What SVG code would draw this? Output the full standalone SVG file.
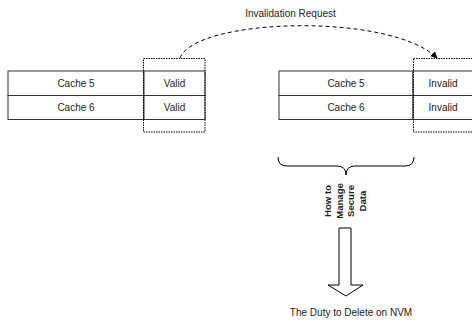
<svg xmlns="http://www.w3.org/2000/svg" width="472" height="323" viewBox="0 0 472 323">
<defs>
<style>
.t{font-family:"Liberation Sans",Arial,sans-serif;font-size:10px;fill:#222;text-anchor:middle}
.b{font-weight:bold;font-size:9.6px}
.cell{fill:#fff;stroke:#333;stroke-width:1}
.dot{fill:none;stroke:#000;stroke-width:1;stroke-dasharray:1.5 1}
.dash{fill:none;stroke:#000;stroke-width:1;stroke-dasharray:4 3}
</style>
<marker id="ah" viewBox="0 0 10 10" refX="9" refY="5" markerWidth="7" markerHeight="7" markerUnits="userSpaceOnUse" orient="auto">
<path d="M0,0 L10,5 L0,10 z" fill="#000"/>
</marker>
</defs>
<rect width="472" height="323" fill="#fff"/>
<g id="left-table">
<rect class="cell" x="8" y="71" width="136" height="24.5"/>
<rect class="cell" x="144" y="71" width="61" height="24.5"/>
<rect class="cell" x="8" y="95.5" width="136" height="24"/>
<rect class="cell" x="144" y="95.5" width="61" height="24"/>
<text class="t" x="76" y="87">Cache 5</text>
<text class="t" x="174.5" y="87">Valid</text>
<text class="t" x="76" y="111">Cache 6</text>
<text class="t" x="174.5" y="111">Valid</text>
<rect class="dot" x="143.5" y="58.5" width="61.5" height="73.5"/>
</g>
<g id="right-table">
<rect class="cell" x="279" y="71" width="134" height="24.5"/>
<rect class="cell" x="413" y="71" width="60" height="24.5"/>
<rect class="cell" x="279" y="95.5" width="134" height="24"/>
<rect class="cell" x="413" y="95.5" width="60" height="24"/>
<text class="t" x="346" y="87">Cache 5</text>
<text class="t" x="443" y="87">Invalid</text>
<text class="t" x="346" y="111">Cache 6</text>
<text class="t" x="443" y="111">Invalid</text>
<rect class="dot" x="413.5" y="58.5" width="60" height="73.5"/>
</g>
<g id="connectors">
<path class="dash" d="M180,58 C195,18 390,12 437,58" marker-end="url(#ah)"/>
<text class="t" x="290.5" y="17">Invalidation Request</text>
</g>
<g id="brace">
<path d="M278,157 Q278,166 287,166 L337,166 Q346,166 346,175 Q346,166 355,166 L405,166 Q414,166 414,157" fill="none" stroke="#000" stroke-width="1"/>
</g>
<g id="label-rotated">
<text class="t b" transform="translate(331,201) rotate(-90)">How to</text>
<text class="t b" transform="translate(342.5,201) rotate(-90)">Manage</text>
<text class="t b" transform="translate(354,201) rotate(-90)">Secure</text>
<text class="t b" transform="translate(365.5,201) rotate(-90)">Data</text>
</g>
<g id="block-arrow">
<path d="M339,228 L351,228 L351,285 L363,285 L346,296 L328,285 L339,285 z" fill="#fff" stroke="#000" stroke-width="1"/>
</g>
<g id="result">
<text class="t" x="351" y="316">The Duty to Delete on NVM</text>
</g>
</svg>
